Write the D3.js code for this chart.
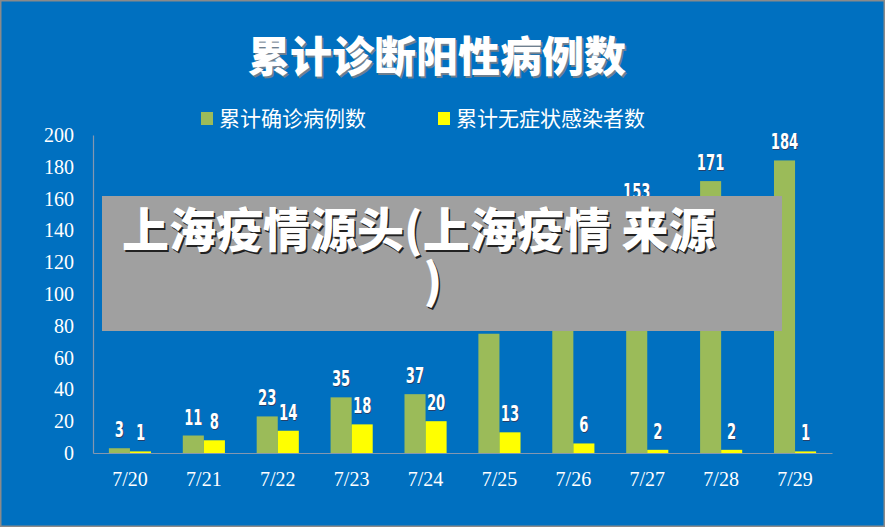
<!DOCTYPE html>
<html>
<head>
<meta charset="utf-8">
<script src="https://cdn.jsdelivr.net/npm/d3@7"></script>
<style>
  body { margin: 0; background: #fff; }
  svg { display: block; }
</style>
</head>
<body>
<div id="chart"></div>
<script>
// data (7/25 and 7/26 partly hidden behind the banner, estimated)
const dates = ["7/20", "7/21", "7/22", "7/23", "7/24", "7/25", "7/26", "7/27", "7/28", "7/29"];
const confirmed = [3, 11, 23, 35, 37, 75, 101, 153, 171, 184];
const asymptomatic = [1, 8, 14, 18, 20, 13, 6, 2, 2, 1];
const yTicks = [0, 20, 40, 60, 80, 100, 120, 140, 160, 180, 200];
const seriesNames = ["累计确诊病例数", "累计无症状感染者数"];
const seriesColors = ["#9BBB59", "#FFFF00"];

const W = 885, H = 527;
const plot = { left: 93, right: 832, top: 135, bottom: 453 };

const svg = d3.select("#chart")
    .append("svg")
    .attr("width", W)
    .attr("height", H);

// background + frame
svg.append("rect")
    .attr("x", 0.75).attr("y", 0.75)
    .attr("width", W - 1.5).attr("height", H - 1.5)
    .attr("fill", "#0070C0")
    .attr("stroke", "#8a8a8a")
    .attr("stroke-width", 1.5);

// Title
const titleFont = "'Noto Sans CJK SC', 'Noto Sans', sans-serif";
svg.append("text")
    .attr("x", 437).attr("y", 72)
    .attr("text-anchor", "middle")
    .style("font-family", titleFont)
    .style("font-size", "42px")
    .style("font-weight", "900")
    .style("fill", "#6f7f8f")
    .attr("transform", "translate(1.5,1.5)")
    .text("累计诊断阳性病例数");
svg.append("text")
    .attr("x", 437).attr("y", 72)
    .attr("text-anchor", "middle")
    .style("font-family", titleFont)
    .style("font-size", "42px")
    .style("font-weight", "900")
    .style("fill", "#ffffff")
    .text("累计诊断阳性病例数");

// Legend
const legendX = [201, 438];
const legend = svg.selectAll(".legend")
    .data(seriesNames)
    .enter().append("g")
    .attr("class", "legend")
    .attr("transform", (d, i) => `translate(${legendX[i]},112)`);
legend.append("rect")
    .attr("width", 12).attr("height", 13)
    .attr("fill", (d, i) => seriesColors[i]);
legend.append("text")
    .attr("x", 18).attr("y", 14)
    .style("font-family", titleFont)
    .style("font-size", "21px")
    .style("fill", "#ffffff")
    .text(d => d);

// Scales
const xScale = d3.scaleBand()
    .domain(dates)
    .range([plot.left, plot.right])
    .paddingInner(0.43)
    .paddingOuter(0.215);

const xSub = d3.scaleBand()
    .domain([0, 1])
    .range([0, xScale.bandwidth()]);

const yScale = d3.scaleLinear()
    .domain([0, 200])
    .range([plot.bottom, plot.top]);

// Axes
const axisFont = "'Liberation Serif', 'Times New Roman', serif";
const yAxis = svg.append("g")
    .attr("transform", `translate(${plot.left},0)`)
    .call(d3.axisLeft(yScale).tickValues(yTicks).tickSize(0).tickPadding(19));
const xAxis = svg.append("g")
    .attr("transform", `translate(0,${plot.bottom})`)
    .call(d3.axisBottom(xScale).tickSize(0).tickPadding(19));

[yAxis, xAxis].forEach(g => {
    g.select(".domain").attr("stroke", "#8497b0").attr("stroke-width", 1.2);
    g.selectAll("text")
        .style("font-family", axisFont)
        .style("font-size", "20px")
        .style("fill", "#ffffff");
});

// Bars
const series = [confirmed, asymptomatic];
const labelFont = "'DejaVu Sans', sans-serif";
series.forEach((vals, si) => {
    svg.selectAll(".bar-" + si)
        .data(vals)
        .enter().append("rect")
        .attr("class", "bar-" + si)
        .attr("x", (d, i) => xScale(dates[i]) + xSub(si))
        .attr("y", d => yScale(d))
        .attr("width", xSub.bandwidth())
        .attr("height", d => plot.bottom - yScale(d))
        .attr("fill", seriesColors[si]);

    // value labels, squeezed to look condensed
    const cx = i => xScale(dates[i]) + xSub(si) + xSub.bandwidth() / 2;
    const lbl = svg.selectAll(".lbl-" + si)
        .data(vals)
        .enter();
    [["#25406a", 0.8], ["#ffffff", 0]].forEach(([fill, off]) => {
        lbl.append("text")
            .attr("transform", (d, i) => `translate(${cx(i) + off},${yScale(d) - 11 + off}) scale(0.6,1)`)
            .attr("text-anchor", "middle")
            .style("font-family", labelFont)
            .style("font-size", "22px")
            .style("font-weight", "bold")
            .style("fill", fill)
            .text(d => d);
    });
});

// Gray banner laid over the chart
svg.append("rect")
    .attr("x", 102).attr("y", 196)
    .attr("width", 680).attr("height", 135)
    .attr("fill", "#A0A0A0");

const bannerLines = [
    { text: "上海疫情源头(上海疫情 来源", x: 122, y: 247, anchor: "start" },
    { text: ")", x: 433, y: 298, anchor: "middle" }
];
const banner = svg.selectAll(".banner")
    .data(bannerLines)
    .enter();
banner.append("text")
    .attr("x", d => d.x + 1.5).attr("y", d => d.y + 1.5)
    .attr("text-anchor", d => d.anchor)
    .style("font-family", titleFont)
    .style("font-size", "47px")
    .style("font-weight", "900")
    .style("fill", "#222")
    .text(d => d.text);
banner.append("text")
    .attr("x", d => d.x).attr("y", d => d.y)
    .attr("text-anchor", d => d.anchor)
    .style("font-family", titleFont)
    .style("font-size", "47px")
    .style("font-weight", "900")
    .style("fill", "#ffffff")
    .text(d => d.text);
</script>
</body>
</html>
